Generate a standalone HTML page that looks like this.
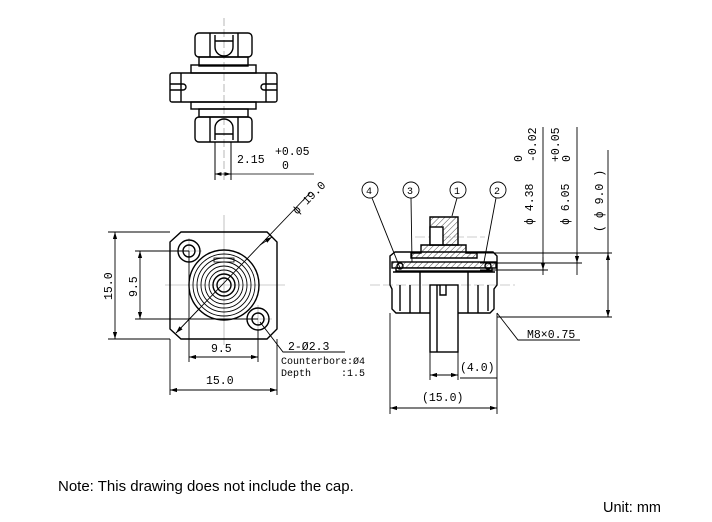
<!DOCTYPE html>
<html><head><meta charset="utf-8"><style>
html,body{margin:0;padding:0;background:#fff;}
svg{display:block}
text{font-family:"Liberation Mono","DejaVu Sans Mono",monospace;fill:#000;white-space:pre}
</style></head><body>
<svg width="712" height="522" viewBox="0 0 712 522" xmlns="http://www.w3.org/2000/svg">
<defs>
<marker id="a" viewBox="0 0 10 6" refX="10" refY="3" markerWidth="8" markerHeight="5" orient="auto-start-reverse"><path d="M0,0L10,3L0,6z" fill="#000"/></marker>
<pattern id="h" width="4" height="4" patternUnits="userSpaceOnUse" patternTransform="rotate(45)"><line x1="0" y1="0" x2="0" y2="4" stroke="#000" stroke-width="0.7"/></pattern>
</defs>
<g fill="none" stroke="#000" stroke-width="1.4">
<!-- TOP VIEW -->
<line x1="224" y1="18" x2="224" y2="180" stroke="#888" stroke-width="0.6" stroke-dasharray="8,3"/>
<rect x="195" y="33" width="57" height="24" rx="4"/>
<line x1="210" y1="33" x2="210" y2="57"/><line x1="238" y1="33" x2="238" y2="57"/>
<path d="M215,35 v12 a9,9 0 0 0 18,0 v-12"/><line x1="215" y1="41" x2="233" y2="41"/>
<rect x="199" y="57" width="49" height="9"/>
<rect x="191" y="65" width="65" height="8"/>
<rect x="170" y="73" width="107" height="29" rx="2"/>
<line x1="181" y1="73" x2="181" y2="102"/><line x1="266" y1="73" x2="266" y2="102"/>
<path d="M170,84 h13 a3,3 0 0 1 0,6 h-13 M277,84 h-13 a3,3 0 0 0 0,6 h13"/>
<rect x="191" y="102" width="65" height="7"/>
<rect x="199" y="109" width="49" height="8"/>
<rect x="195" y="117" width="57" height="25" rx="4"/>
<line x1="210" y1="117" x2="210" y2="142"/><line x1="238" y1="117" x2="238" y2="142"/>
<path d="M215,140 v-12 a9,9 0 0 1 18,0 v12"/><line x1="215" y1="134" x2="233" y2="134"/>
<line x1="215" y1="142" x2="215" y2="180" stroke-width="1"/><line x1="231" y1="142" x2="231" y2="180" stroke-width="1"/>
<line x1="215" y1="174" x2="314" y2="174" stroke-width="0.8"/>
<line x1="222" y1="174" x2="215" y2="174" marker-end="url(#a)" stroke-width="0.8"/>
<line x1="224" y1="174" x2="231" y2="174" marker-end="url(#a)" stroke-width="0.8"/>

<!-- FRONT VIEW -->
<g stroke="#999" stroke-width="0.6"><line x1="224" y1="215" x2="224" y2="345"/><line x1="165" y1="285" x2="285" y2="285"/>
<line x1="189" y1="238" x2="189" y2="265"/><line x1="176" y1="251" x2="202" y2="251"/><line x1="258" y1="305" x2="258" y2="333"/><line x1="245" y1="319" x2="272" y2="319"/></g>
<path d="M181,232 H267 L277,242 V329 L267,339 H181 L170,329 V242 Z"/>
<circle cx="189" cy="251" r="11"/><circle cx="189" cy="251" r="6"/>
<circle cx="258" cy="319" r="11"/><circle cx="258" cy="319" r="6"/>
<circle cx="224" cy="285" r="35"/><circle cx="224" cy="285" r="31" stroke-width="0.9"/><circle cx="224" cy="285" r="27" stroke-width="0.9"/>
<circle cx="224" cy="285" r="23" stroke-width="0.9"/><circle cx="224" cy="285" r="19" stroke-width="0.9"/><circle cx="224" cy="285" r="15" stroke-width="0.9"/>
<circle cx="224" cy="285" r="11"/><circle cx="224" cy="285" r="7"/>
<rect x="214" y="258" width="20" height="4" stroke-width="0.8"/>
<line x1="176" y1="333" x2="310" y2="193" stroke-width="0.9"/>
<line x1="200" y1="308" x2="176" y2="333" marker-end="url(#a)" stroke-width="0.9"/>
<line x1="260" y1="245" x2="272" y2="237" marker-end="url(#a)" stroke-width="0.9"/>
<g stroke-width="0.9">
<line x1="108" y1="232" x2="170" y2="232"/><line x1="108" y1="339" x2="170" y2="339"/>
<line x1="115" y1="232" x2="115" y2="339" marker-start="url(#a)" marker-end="url(#a)"/>
<line x1="135" y1="251" x2="189" y2="251"/><line x1="135" y1="319" x2="258" y2="319"/>
<line x1="140" y1="251" x2="140" y2="319" marker-start="url(#a)" marker-end="url(#a)"/>
<line x1="189" y1="251" x2="189" y2="362"/><line x1="258" y1="330" x2="258" y2="362"/>
<line x1="189" y1="357" x2="258" y2="357" marker-start="url(#a)" marker-end="url(#a)"/>
<line x1="170" y1="339" x2="170" y2="395"/><line x1="277" y1="339" x2="277" y2="395"/>
<line x1="170" y1="390" x2="277" y2="390" marker-start="url(#a)" marker-end="url(#a)"/>
<polyline points="260,322 283,352 345,352"/>
</g>

<!-- SECTION VIEW -->
<g stroke-width="0.9">
<circle cx="370" cy="190" r="8"/><circle cx="411" cy="190" r="8"/><circle cx="458" cy="190" r="8"/><circle cx="498" cy="190" r="8"/>
<line x1="372" y1="198" x2="400" y2="268"/><line x1="411" y1="198" x2="412" y2="262"/>
<line x1="457" y1="198" x2="452" y2="216"/><line x1="496" y1="198" x2="484" y2="262"/>
</g>
<g stroke="#999" stroke-width="0.6" stroke-dasharray="10,3"><line x1="415" y1="237" x2="485" y2="237"/><line x1="370" y1="285" x2="515" y2="285"/></g>
<path d="M430,217 H458 V245 H430 Z" fill="url(#h)"/>
<rect x="430" y="227" width="13" height="18" fill="#fff"/>
<path d="M421,245 H466 V253 H477 V258 H411 V253 H421 Z" fill="url(#h)"/>
<path d="M395,252 H493 L497,256 V285 L494,289 V309 L490,313 H396 L392,309 V289 L390,285 V256 Z"/>
<rect x="392" y="262" width="104" height="6" fill="url(#h)"/>
<rect x="396" y="268" width="96" height="3" fill="#fff"/>
<circle cx="400" cy="266" r="3"/><circle cx="488" cy="266" r="3"/>
<line x1="393" y1="272" x2="495" y2="272"/>
<line x1="400" y1="285" x2="400" y2="311"/><line x1="488" y1="285" x2="488" y2="311"/>
<line x1="410" y1="285" x2="410" y2="313"/><line x1="478" y1="285" x2="478" y2="313"/>
<line x1="420" y1="272" x2="420" y2="313"/><line x1="468" y1="272" x2="468" y2="313"/>
<rect x="430" y="285" width="28" height="67" fill="#fff"/>
<line x1="437" y1="285" x2="437" y2="352"/>
<path d="M440,285 v10 h6 v-10"/>
<g stroke-width="0.9">
<line x1="470" y1="253" x2="612" y2="253"/><line x1="480" y1="263" x2="582" y2="263"/><line x1="480" y1="270" x2="548" y2="270"/>
<line x1="497" y1="317" x2="612" y2="317"/>
<line x1="543" y1="127" x2="543" y2="275"/><line x1="543" y1="257" x2="543" y2="270" marker-end="url(#a)"/>
<line x1="577" y1="127" x2="577" y2="275"/><line x1="577" y1="253" x2="577" y2="263" marker-end="url(#a)"/>
<line x1="608" y1="150" x2="608" y2="317"/><line x1="608" y1="270" x2="608" y2="253" marker-end="url(#a)"/><line x1="608" y1="300" x2="608" y2="317" marker-end="url(#a)"/>
<polyline points="497,313 518,340 580,340"/>
<line x1="430" y1="352" x2="430" y2="380"/><line x1="458" y1="352" x2="458" y2="380"/>
<line x1="430" y1="375" x2="458" y2="375" marker-start="url(#a)" marker-end="url(#a)"/>
<line x1="460" y1="378" x2="497" y2="378"/>
<line x1="390" y1="313" x2="390" y2="414"/><line x1="497" y1="313" x2="497" y2="414"/>
<line x1="390" y1="408" x2="497" y2="408" marker-start="url(#a)" marker-end="url(#a)"/>
</g>
</g>

<g font-size="11.5">
<text x="237" y="163">2.15</text><text x="275" y="155">+0.05</text><text x="282" y="169">0</text>
<text transform="translate(297,215) rotate(-45)">ϕ 19.0</text>
<text transform="translate(112,300) rotate(-90)">15.0</text>
<text transform="translate(137,297) rotate(-90)">9.5</text>
<text x="211" y="352">9.5</text>
<text x="206" y="384">15.0</text>
<text x="288" y="350">2-Ø2.3</text>
<text x="281" y="364" font-size="10">Counterbore:Ø4</text>
<text x="281" y="376" font-size="10">Depth     :1.5</text>
<text x="366" y="194" font-size="10">4</text><text x="407" y="194" font-size="10">3</text><text x="454" y="194" font-size="10">1</text><text x="494" y="194" font-size="10">2</text>
<text transform="translate(533,225) rotate(-90)">ϕ 4.38</text>
<text transform="translate(522,162) rotate(-90)">0</text>
<text transform="translate(536,162) rotate(-90)">-0.02</text>
<text transform="translate(569,225) rotate(-90)">ϕ 6.05</text>
<text transform="translate(559,162) rotate(-90)">+0.05</text>
<text transform="translate(570,162) rotate(-90)">0</text>
<text transform="translate(603,232) rotate(-90)">( ϕ 9.0 )</text>
<text x="527" y="338">M8×0.75</text>
<text x="460" y="371">(4.0)</text>
<text x="422" y="401">(15.0)</text>
</g>
<text x="58" y="491" style="font-family:'Liberation Sans',Arial,sans-serif;font-size:15px">Note: This drawing does not include the cap.</text>
<text x="603" y="512" style="font-family:'Liberation Sans',Arial,sans-serif;font-size:14.5px">Unit: mm</text>
</svg>
</body></html>
